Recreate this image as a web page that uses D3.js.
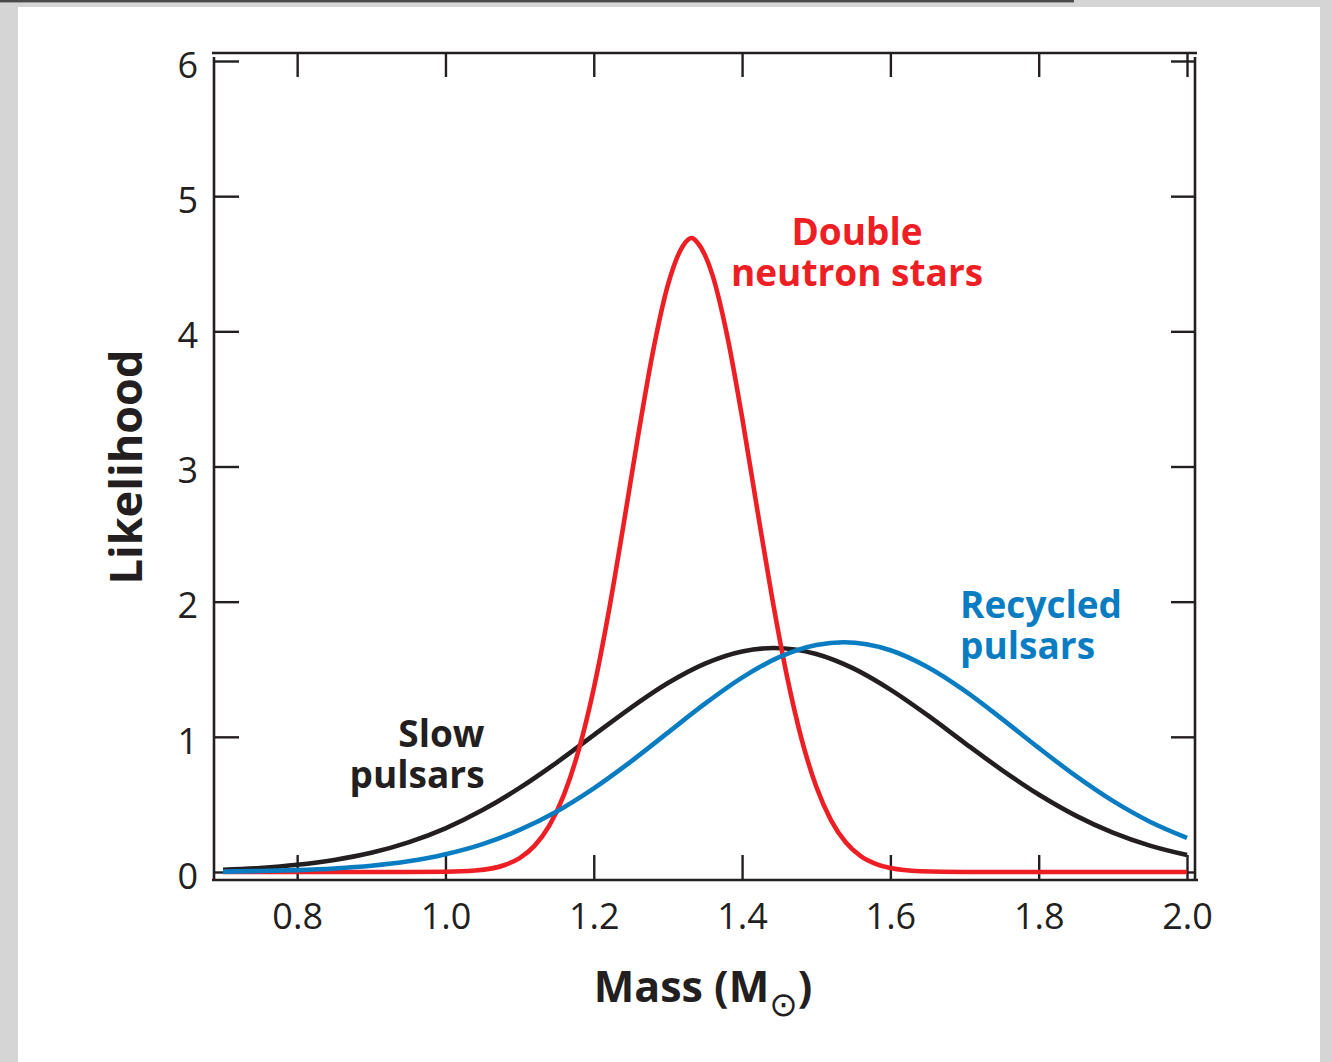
<!DOCTYPE html>
<html>
<head>
<meta charset="utf-8">
<script src="https://cdn.jsdelivr.net/npm/d3@7"></script>
<style>
  html, body { margin: 0; padding: 0; background: #d5d5d5; }
  svg { display: block; }
</style>
</head>
<body>
<svg id="chart" width="1331" height="1062"></svg>
<script>
// ---------- data ----------
const massSlow = [0.70,0.75,0.80,0.85,0.90,0.95,1.00,1.05,1.10,1.15,1.20,1.25,1.30,1.35,1.40,1.443,1.50,1.55,1.60,1.65,1.70,1.75,1.80,1.85,1.90,1.95,2.00];
const slowPulsars = [0.017,0.030,0.053,0.089,0.142,0.219,0.323,0.458,0.622,0.810,1.013,1.215,1.398,1.542,1.632,1.657,1.613,1.506,1.349,1.160,0.956,0.756,0.573,0.417,0.291,0.195,0.125];

const massRecycled = [0.70,0.75,0.80,0.85,0.90,0.95,1.00,1.05,1.10,1.15,1.20,1.25,1.30,1.35,1.40,1.45,1.50,1.537,1.60,1.65,1.70,1.75,1.80,1.85,1.90,1.95,2.00];
const recycledPulsars = [0.003,0.007,0.014,0.026,0.046,0.079,0.131,0.206,0.311,0.448,0.619,0.817,1.031,1.245,1.438,1.589,1.679,1.700,1.641,1.517,1.342,1.135,0.918,0.711,0.526,0.372,0.252];

const massDouble = [0.70,0.80,0.90,0.95,1.00,1.04,1.08,1.10,1.12,1.14,1.16,1.18,1.20,1.22,1.24,1.26,1.28,1.30,1.32,1.332,1.34,1.36,1.38,1.40,1.42,1.44,1.46,1.48,1.50,1.52,1.54,1.56,1.58,1.60,1.64,1.70,1.80,1.90,2.00];
const doubleNeutronStars = [0,0,0,0.0003,0.002,0.011,0.052,0.103,0.193,0.343,0.574,0.909,1.358,1.920,2.564,3.234,3.855,4.343,4.630,4.690,4.655,4.418,3.966,3.365,2.697,2.044,1.463,0.989,0.632,0.382,0.218,0.117,0.060,0.029,0.006,0.0005,0,0,0];

const xTicks = [0.8,1.0,1.2,1.4,1.6,1.8,2.0];
const yTicks = [0,1,2,3,4,5,6];

const labelDouble = ["Double","neutron stars"];
const labelSlow = ["Slow","pulsars"];
const labelRecycled = ["Recycled","pulsars"];
const xTitle = "Mass (M";
const sunSymbol = "\u2299";
const yTitle = "Likelihood";

// ---------- layout ----------
const W = 1331, H = 1062;
const svg = d3.select("#chart");
const ink = "#231f20";
const red = "#ed1f24", blue = "#0a7dc2";
const font = "'Open Sans', 'Noto Sans', sans-serif";

// page background
svg.append("rect").attr("x",0).attr("y",0).attr("width",W).attr("height",H).attr("fill","#d5d5d5");
svg.append("rect").attr("x",18).attr("y",7).attr("width",1302).attr("height",H-7).attr("fill","#ffffff");
svg.append("rect").attr("x",0).attr("y",0).attr("width",1074).attr("height",2.4).attr("fill","#4a4a4a");

const x = d3.scaleLinear().domain([0.7, 2.0]).range([223, 1187]);
const y = d3.scaleLinear().domain([0, 6]).range([872, 61]);

const fL = 214, fR = 1195, fT = 53, fB = 880;

// axes (ticks inward)
const gL = svg.append("g").attr("transform",`translate(${fL},0)`)
  .call(d3.axisLeft(y).tickValues(yTicks).tickFormat(d3.format("d")).tickSizeInner(-25).tickSizeOuter(0).tickPadding(16));
const gR = svg.append("g").attr("transform",`translate(${fR},0)`)
  .call(d3.axisRight(y).tickValues(yTicks).tickFormat("").tickSizeInner(-24).tickSizeOuter(0));
const gB = svg.append("g").attr("transform",`translate(0,${fB})`)
  .call(d3.axisBottom(x).tickValues(xTicks).tickFormat(d3.format(".1f")).tickSizeInner(-25).tickSizeOuter(0).tickPadding(23));
const gT = svg.append("g").attr("transform",`translate(0,${fT})`)
  .call(d3.axisTop(x).tickValues(xTicks).tickFormat("").tickSizeInner(-24).tickSizeOuter(0));

[gL,gR,gB,gT].forEach(g => {
  g.select(".domain").remove();
  g.selectAll(".tick line").attr("stroke", ink).attr("stroke-width", 2.4);
  g.selectAll(".tick text").attr("fill", ink).style("font-family", font).style("font-size","36px").style("font-weight", 400);
});
gL.selectAll(".tick text").attr("dy","0.45em");

// frame
const frame = svg.append("g").attr("stroke", ink).attr("stroke-width", 2.6).attr("fill","none");
frame.append("line").attr("x1", fL-2).attr("x2", fR+2).attr("y1", fT).attr("y2", fT);
frame.append("line").attr("x1", fL).attr("x2", fL).attr("y1", fT+4).attr("y2", fB+1);
frame.append("line").attr("x1", fL-2).attr("x2", fR+3).attr("y1", fB).attr("y2", fB);
frame.append("line").attr("x1", fR).attr("x2", fR).attr("y1", fT+4).attr("y2", fB+1);

// curves
const line = d3.line().x(d => x(d[0])).y(d => y(d[1])).curve(d3.curveMonotoneX);
function drawCurve(xs, ys, color) {
  svg.append("path")
    .datum(xs.map((m,i) => [m, ys[i]]))
    .attr("d", line)
    .attr("fill","none").attr("stroke", color)
    .attr("stroke-width", 4.6).attr("stroke-linejoin","round");
}
drawCurve(massSlow, slowPulsars, ink);
drawCurve(massDouble, doubleNeutronStars, red);
drawCurve(massRecycled, recycledPulsars, blue);

// curve labels (one text element per line, as in the reference)
function label(lines, mx, my, anchor, color) {
  lines.forEach((s,i) => {
    svg.append("text").attr("x", x(mx)).attr("y", y(my) + i * 41)
      .attr("text-anchor", anchor).attr("fill", color)
      .style("font-family", font).style("font-size","37px").style("font-weight", 700)
      .text(s);
  });
}
label(labelDouble, 1.555, 4.64, "middle", red);
label(labelSlow, 1.0527, 0.925, "end", ink);
label(labelRecycled, 1.694, 1.879, "start", blue);

// axis titles
const xt = svg.append("text").attr("x", 703).attr("y", 1002).attr("text-anchor","middle").attr("fill", ink)
  .style("font-family", font).style("font-size","43px").style("font-weight",700);
xt.append("tspan").text(xTitle);
xt.append("tspan").attr("dy", 14).style("font-family","'DejaVu Sans', sans-serif").style("font-size","34px").style("font-weight",400).text(sunSymbol);
xt.append("tspan").attr("dy", -14).text(")");

svg.append("text").attr("transform", "translate(142,467) rotate(-90)").attr("text-anchor","middle").attr("fill", ink)
  .style("font-family", font).style("font-size","45px").style("font-weight",700).text(yTitle);
</script>
</body>
</html>
